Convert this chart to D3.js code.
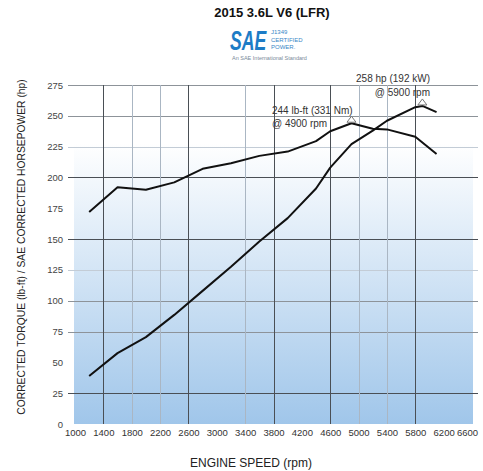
<!DOCTYPE html>
<html>
<head>
<meta charset="utf-8">
<script src="https://cdnjs.cloudflare.com/ajax/libs/d3/7.8.5/d3.min.js"></script>
<style>
  body { margin: 0; background: #fff; }
  svg { display: block; font-family: "Liberation Sans", Arial, sans-serif; }
</style>
</head>
<body>
<div id="chart"></div>
<script>
var torqueRpm = [1200, 1600, 2000, 2400, 2800, 3200, 3600, 4000, 4400, 4600, 4900, 5200, 5400, 5800, 6100],
    torque    = [172, 192, 190, 196, 207, 211.5, 217.5, 221, 229.5, 237.5, 244, 239.5, 239, 233, 219];

var hpRpm = [1200, 1600, 2000, 2400, 2800, 3200, 3600, 4000, 4400, 4600, 4900, 5200, 5400, 5800, 5900, 6100],
    hp    = [39, 57.5, 70.5, 88.5, 108, 127.5, 148, 167, 191, 208, 227, 238, 246, 257, 258, 253];

var xTicks = d3.range(1000, 6601, 400),
    yTicks = d3.range(0, 276, 25);

// grid lines, as they are in the picture
var xGridDark = [1400, 2600, 3800, 4600, 5800],
    xGridLight = [1800, 2200, 3400, 5000, 5400],
    yGridDark = [200, 150, 25],
    yGridMid = [275, 250, 100, 75],
    yGridLight = [225, 125];

var peaks = [
    {rpm: 4900, val: 244, l1: "244 lb-ft (331 Nm)", l2: "@ 4900 rpm"},
    {rpm: 5900, val: 258, l1: "258 hp (192 kW)", l2: "@ 5900 rpm"}
];

var W = 483, H = 471;

var x = d3.scaleLinear().domain([1000, 6600]).range([75, 472]);
var y = d3.scaleLinear().domain([0, 275]).range([424, 85]);

var svg = d3.select("#chart").append("svg")
    .attr("width", W)
    .attr("height", H);

var grad = svg.append("defs").append("linearGradient")
    .attr("id", "bg")
    .attr("x1", 0).attr("y1", 0).attr("x2", 0).attr("y2", 1);
grad.append("stop").attr("offset", "0%").attr("stop-color", "#ffffff");
grad.append("stop").attr("offset", "17%").attr("stop-color", "#ffffff");
grad.append("stop").attr("offset", "100%").attr("stop-color", "#a0c6ea");

svg.append("rect")
    .attr("x", x(1000) - 1)
    .attr("y", y(275))
    .attr("width", x(6600) - x(1000) + 2)
    .attr("height", y(0) - y(275))
    .attr("fill", "url(#bg)");

function hline(vals, color) {
    svg.append("g").selectAll("line")
        .data(vals)
        .enter()
        .append("line")
        .attr("x1", 68)
        .attr("x2", 478)
        .attr("y1", function(d) { return Math.round(y(d)) + 0.5; })
        .attr("y2", function(d) { return Math.round(y(d)) + 0.5; })
        .attr("stroke", color)
        .attr("stroke-width", 1);
}

function vline(vals, color) {
    svg.append("g").selectAll("line")
        .data(vals)
        .enter()
        .append("line")
        .attr("x1", function(d) { return Math.round(x(d)) + 0.5; })
        .attr("x2", function(d) { return Math.round(x(d)) + 0.5; })
        .attr("y1", y(275))
        .attr("y2", y(0))
        .attr("stroke", color)
        .attr("stroke-width", 1);
}

hline(yGridLight, "#c3ccd6");
hline(yGridMid, "#8d9399");
hline(yGridDark, "#4a4f55");
vline(xGridLight, "#aab6c3");
vline(xGridDark, "#4a4f55");

// axes
var yAxis = d3.axisLeft(y).tickValues(yTicks).tickSize(0).tickPadding(0);
svg.append("g")
    .attr("transform", "translate(63,0)")
    .call(yAxis)
    .call(function(g) { g.select(".domain").remove(); })
    .selectAll("text")
    .attr("fill", "#444")
    .style("font-size", "9.5px")
    .style("font-family", "Liberation Sans, Arial, sans-serif");

var xAxis = d3.axisBottom(x).tickValues(xTicks).tickFormat(d3.format("d")).tickSize(0).tickPadding(0);
svg.append("g")
    .attr("transform", "translate(0,429)")
    .call(xAxis)
    .call(function(g) { g.select(".domain").remove(); })
    .selectAll("text")
    .attr("fill", "#333")
    .attr("dx", function(d) { return d == 6600 ? -5 : 0; })
    .style("font-size", "9.5px")
    .style("font-family", "Liberation Sans, Arial, sans-serif");

// curves
var line = d3.line()
    .x(function(d) { return x(d[0]); })
    .y(function(d) { return y(d[1]); });

svg.append("path")
    .datum(d3.zip(torqueRpm, torque))
    .attr("d", line)
    .attr("fill", "none")
    .attr("stroke", "#111")
    .attr("stroke-width", 2)
    .attr("stroke-linejoin", "round");

svg.append("path")
    .datum(d3.zip(hpRpm, hp))
    .attr("d", line)
    .attr("fill", "none")
    .attr("stroke", "#111")
    .attr("stroke-width", 2)
    .attr("stroke-linejoin", "round");

// peak markers
svg.selectAll(".peak")
    .data(peaks)
    .enter()
    .append("path")
    .attr("class", "peak")
    .attr("d", function(d) {
        var cx = x(d.rpm), cy = y(d.val) - 1;
        return "M" + (cx - 4.5) + "," + cy + "L" + cx + "," + (cy - 6) + "L" + (cx + 4.5) + "," + cy + "Z";
    })
    .attr("fill", "#fff")
    .attr("stroke", "#777")
    .attr("stroke-width", 1);

var ann = svg.append("g")
    .attr("fill", "#333")
    .style("font-size", "10px");

ann.append("text").attr("x", 272).attr("y", 114).text(peaks[0].l1);
ann.append("text").attr("x", 272).attr("y", 126.5).text(peaks[0].l2);
ann.append("text").attr("x", 430).attr("y", 82).attr("text-anchor", "end").text(peaks[1].l1);
ann.append("text").attr("x", 430).attr("y", 95.5).attr("text-anchor", "end").text(peaks[1].l2);

// titles
svg.append("text")
    .attr("x", 272)
    .attr("y", 17)
    .attr("text-anchor", "middle")
    .attr("fill", "#111")
    .style("font-size", "13px")
    .style("font-weight", "bold")
    .text("2015 3.6L V6 (LFR)");

svg.append("text")
    .attr("x", 251)
    .attr("y", 467)
    .attr("text-anchor", "middle")
    .attr("fill", "#222")
    .style("font-size", "12px")
    .text("ENGINE SPEED (rpm)");

svg.append("text")
    .attr("transform", "translate(25,247) rotate(-90)")
    .attr("text-anchor", "middle")
    .attr("fill", "#222")
    .style("font-size", "10.3px")
    .text("CORRECTED TORQUE (lb-ft) / SAE CORRECTED HORSEPOWER (hp)");

// SAE badge
var logo = svg.append("g");
logo.append("text")
    .attr("transform", "translate(230,50) scale(0.63,1)")
    .attr("fill", "#1d7cc6")
    .style("font-size", "28px")
    .style("font-weight", "bold")
    .style("font-style", "italic")
    .text("SAE");
logo.selectAll(".cert")
    .data(["J1349", "CERTIFIED", "POWER."])
    .enter()
    .append("text")
    .attr("x", 271)
    .attr("y", function(d, i) { return 34 + i * 7.5; })
    .attr("fill", "#3a86c6")
    .style("font-size", "6px")
    .text(function(d) { return d; });
logo.append("text")
    .attr("x", 232)
    .attr("y", 60)
    .attr("fill", "#7a8a99")
    .style("font-size", "5.5px")
    .text("An SAE International Standard");
</script>
</body>
</html>
